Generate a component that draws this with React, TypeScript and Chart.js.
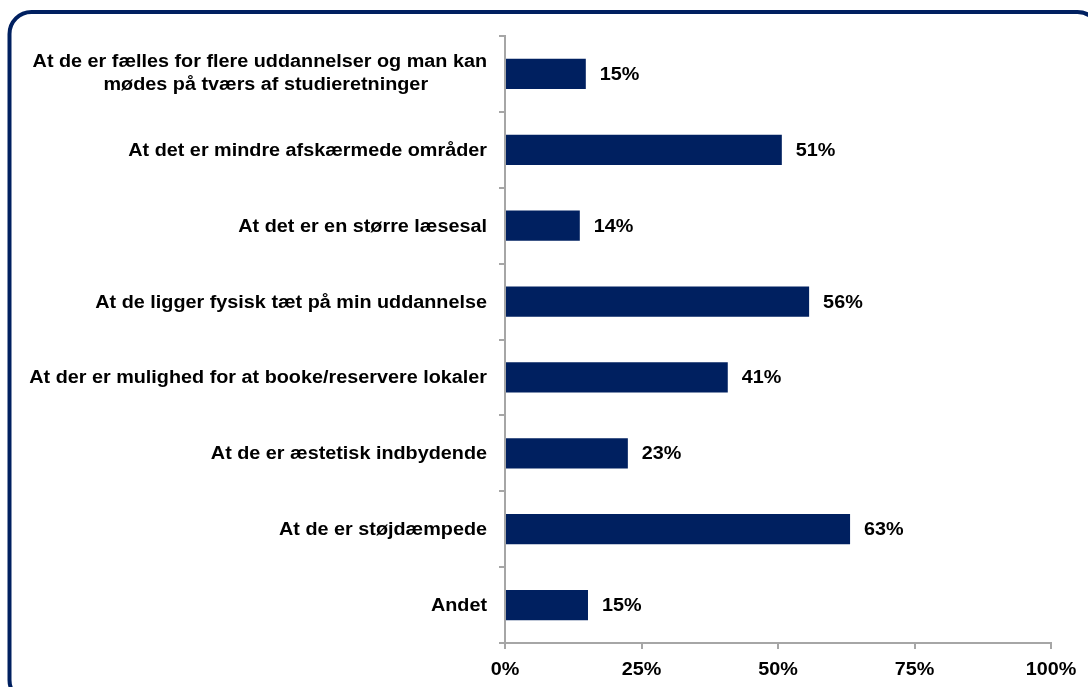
import React, { useEffect, useRef } from 'react';
import { Chart, registerables } from 'chart.js';

Chart.register(...registerables);

const categories: string[][] = [
  ['At de er fælles for flere uddannelser og man kan', 'mødes på tværs af studieretninger'],
  ['At det er mindre afskærmede områder'],
  ['At det er en større læsesal'],
  ['At de ligger fysisk tæt på min uddannelse'],
  ['At der er mulighed for at booke/reservere lokaler'],
  ['At de er æstetisk indbydende'],
  ['At de er støjdæmpede'],
  ['Andet'],
];
const values: number[] = [14.8, 50.7, 13.7, 55.7, 40.8, 22.5, 63.2, 15.2];
const xTickValues: number[] = [0, 25, 50, 75, 100];

const FONT = '"Liberation Sans", Arial, sans-serif';
const NAVY = '#002060';
const AXIS_GRAY = '#A6A6A6';
const STRETCH = 1.1;

function drawText(
  ctx: CanvasRenderingContext2D,
  text: string,
  x: number,
  y: number,
  align: CanvasTextAlign,
  stretch: number = STRETCH
) {
  ctx.save();
  ctx.translate(x, y);
  ctx.scale(stretch, 1);
  ctx.textAlign = align;
  ctx.textBaseline = 'middle';
  ctx.fillText(text, 0, 0);
  ctx.restore();
}

export default function App() {
  const ref = useRef<HTMLCanvasElement | null>(null);

  useEffect(() => {
    if (!ref.current) return;

    const framePlugin = {
      id: 'frame',
      beforeDraw(chart: any) {
        const ctx = chart.ctx;
        ctx.save();
        ctx.fillStyle = '#ffffff';
        ctx.fillRect(0, 0, chart.width, chart.height);
        ctx.strokeStyle = NAVY;
        ctx.lineWidth = 4;
        ctx.beginPath();
        (ctx as any).roundRect(9.5, 12, 1090, 690, 22);
        ctx.stroke();
        ctx.restore();
      },
    };

    const textPlugin = {
      id: 'texts',
      afterDraw(chart: any) {
        const ctx = chart.ctx;
        const yScale = chart.scales.y;
        const xScale = chart.scales.x;
        const rightX = chart.chartArea.left - 18;
        const lh = 23;
        ctx.save();
        ctx.font = `bold 18px ${FONT}`;
        ctx.fillStyle = '#000000';
        categories.forEach((lines, i) => {
          const yc = yScale.getPixelForValue(i) + 1;
          if (lines.length === 1) {
            drawText(ctx, lines[0], rightX, yc, 'right');
            return;
          }
          const w = ctx.measureText(lines[0]).width * STRETCH;
          const cx = rightX - w / 2;
          const start = yc - ((lines.length - 1) * lh) / 2 - 1;
          lines.forEach((l, j) => {
            drawText(ctx, l, j === 0 ? cx : cx + 6, start + j * lh, 'center');
          });
        });
        const by = chart.chartArea.bottom + 27;
        xTickValues.forEach((v) => {
          drawText(ctx, v + '%', xScale.getPixelForValue(v), by, 'center');
        });
        const meta = chart.getDatasetMeta(0);
        meta.data.forEach((bar: any, i: number) => {
          drawText(ctx, Math.round(values[i]) + '%', bar.x + 14, bar.y + 1, 'left');
        });
        ctx.restore();
      },
    };

    const chart = new Chart(ref.current, {
      type: 'bar',
      data: {
        labels: categories.map((c) => c.join(' ')),
        datasets: [
          {
            data: values,
            backgroundColor: NAVY,
            borderWidth: 0,
            barPercentage: 0.4,
            categoryPercentage: 1,
          },
        ],
      },
      options: {
        indexAxis: 'y',
        animation: false,
        responsive: false,
        maintainAspectRatio: false,
        layout: { padding: { top: 36, right: 37, bottom: 0, left: 0 } },
        plugins: {
          legend: { display: false },
          tooltip: { enabled: false },
          title: { display: false },
        },
        scales: {
          y: {
            type: 'category',
            offset: true,
            afterFit(scale: any) {
              scale.width = 505;
            },
            grid: {
              offset: true,
              drawOnChartArea: false,
              drawTicks: true,
              tickLength: 6,
              color: AXIS_GRAY,
              lineWidth: 2,
            },
            border: { display: true, color: AXIS_GRAY, width: 2 },
            ticks: { display: false },
          },
          x: {
            type: 'linear',
            min: 0,
            max: 100,
            afterFit(scale: any) {
              scale.height = 44;
            },
            afterBuildTicks(scale: any) {
              scale.ticks = xTickValues.map((v) => ({ value: v }));
            },
            grid: {
              drawOnChartArea: false,
              drawTicks: true,
              tickLength: 6,
              color: AXIS_GRAY,
              lineWidth: 2,
            },
            border: { display: true, color: AXIS_GRAY, width: 2 },
            ticks: { display: false },
          },
        },
      },
      plugins: [framePlugin, textPlugin],
    } as any);

    return () => chart.destroy();
  }, []);

  return (
    <div style={{ position: 'absolute', left: 0, top: 0, width: 1088, height: 687 }}>
      <canvas ref={ref} width={1088} height={687} style={{ display: 'block' }} />
    </div>
  );
}
